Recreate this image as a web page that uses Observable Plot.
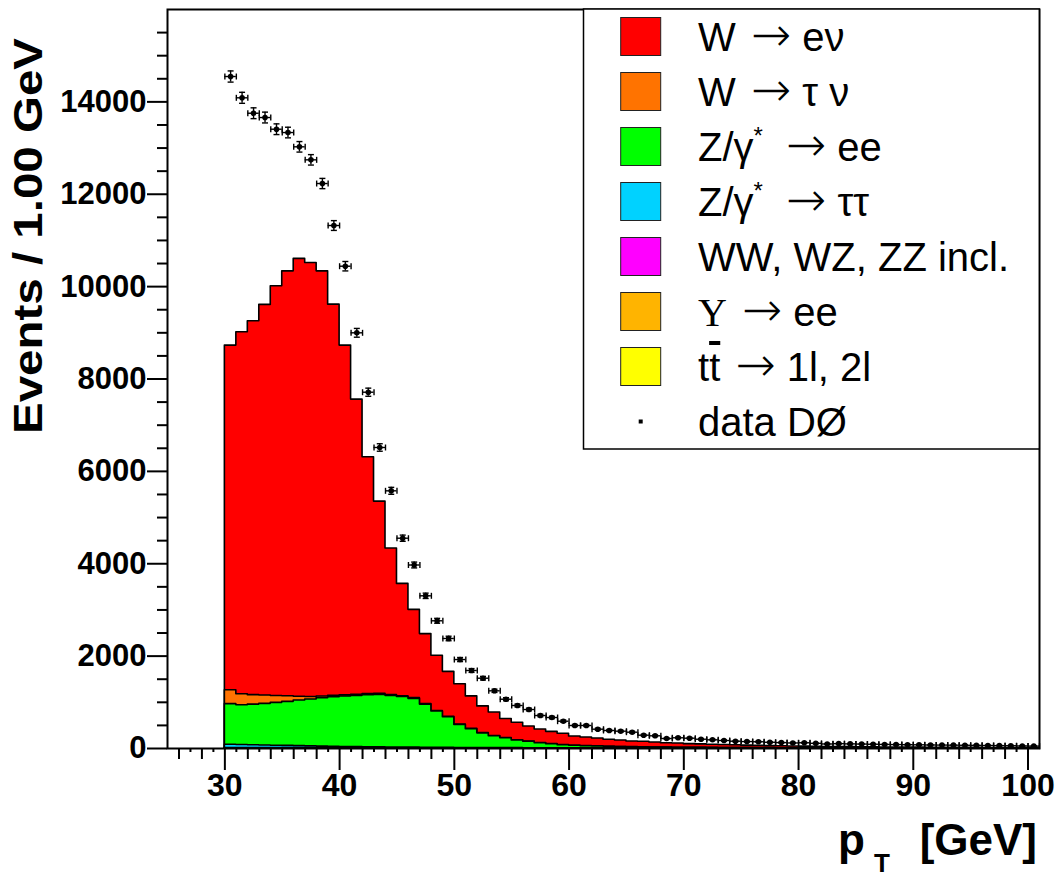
<!DOCTYPE html>
<html>
<head>
<meta charset="utf-8">
<script src="https://cdn.jsdelivr.net/npm/d3@7"></script>
<script src="https://cdn.jsdelivr.net/npm/@observablehq/plot@0.6"></script>
<style>
  body { margin: 0; background: #fff; }
  #chart { width: 1058px; height: 876px; }
</style>
</head>
<body>
<div id="chart"></div>
<script>
// ---- categories: lower edges of the 1 GeV bins ----
const binLow = [30,31,32,33,34,35,36,37,38,39,40,41,42,43,44,45,46,47,48,49,50,51,52,53,54,55,56,57,58,59,60,61,62,63,64,65,66,67,68,69,70,71,72,73,74,75,76,77,78,79,80,81,82,83,84,85,86,87,88,89,90,91,92,93,94,95,96,97,98,99,100];
const binWidth = 1;

// ---- MC processes (events per bin) ----
const wenu = [7463,7836,8094,8457,8869,9201,9480,9398,9206,8470,
  7572,6389,5128,4164,3171,2433,1912,1513,1197,972,
  873,702,576,506,412,378,326,292,264,244,
  199,185,170,149,139,122,119,107,95,91,
  78,75,68,63,58,53,49,44,42,38,
  35,32,29,27,25,23,22,20,18,17,
  15,15,14,13,12,11,10,9,9,8,
  8];
const wtaunu = [300,240,205,180,150,120,80,55,35,30,
  25,25,22,20,18,16,15,14,12,10,
  9,8,7,6,6,5,5,4,4,3,
  3,3,3,2,2,2,2,2,2,1,
  1,1,1,1,1,1,1,1,0,0,
  0,0,0,0,0,0,0,0,0,0,
  0,0,0,0,0,0,0,0,0,0,
  0];
const zee = [878,858,878,901,927,954,989,1015,1049,1073,
  1092,1110,1127,1136,1117,1094,1057,934,785,664,
  496,407,318,256,213,165,138,109,87,66,
  53,45,38,33,28,24,21,18,16,14,
  13,11,10,9,8,8,7,7,6,6,
  5,5,5,4,4,4,3,3,3,3,
  3,2,2,2,2,2,2,2,2,2,
  2];
const ztautau = [70,65,60,55,50,45,40,36,32,28,
  25,22,20,18,16,14,12,11,10,9,
  8,7,6,6,5,5,4,4,4,3,
  3,3,3,2,2,2,2,2,1,1,
  1,1,1,1,1,0,0,0,0,0,
  0,0,0,0,0,0,0,0,0,0,
  0,0,0,0,0,0,0,0,0,0,
  0];
const diboson = [6,6,6,6,6,6,6,5,5,5,
  5,4,4,4,4,4,3,3,3,3,
  2,2,2,2,2,2,2,1,1,1,
  1,1,1,1,1,1,1,1,1,1,
  1,1,1,1,1,0,0,0,0,0,
  0,0,0,0,0,0,0,0,0,0,
  0,0,0,0,0,0,0,0,0,0,
  0];
const upsilon = [3,3,3,2,2,2,2,1,1,1,
  1,1,1,1,1,1,1,0,0,0,
  0,0,0,0,0,0,0,0,0,0,
  0,0,0,0,0,0,0,0,0,0,
  0,0,0,0,0,0,0,0,0,0,
  0,0,0,0,0,0,0,0,0,0,
  0,0,0,0,0,0,0,0,0,0,
  0];
const ttbar = [3,3,3,3,3,3,3,3,3,3,
  3,3,3,3,2,2,2,2,2,2,
  2,2,2,2,2,1,1,1,1,1,
  1,1,1,1,1,1,0,0,0,0,
  0,0,0,0,0,0,0,0,0,0,
  0,0,0,0,0,0,0,0,0,0,
  0,0,0,0,0,0,0,0,0,0,
  0];

// ---- data (DØ) ----
const dataCounts = [14549,14088,13754,13661,13408,13336,13027,12745,12232,11323,
  10442,9000,7714,6517,5579,4553,3973,3306,2765,2382,
  1926,1689,1522,1249,1067,931,844,714,671,591,
  498,498,418,390,375,353,288,275,216,232,
  223,201,188,173,158,150,146,135,128,120,
  124,112,98,105,100,96,92,88,85,82,
  80,76,74,72,70,68,65,62,60,55,
  52];
const dataErrors = [121,119,117,117,116,115,114,113,111,106,
  102,95,88,81,75,67,63,58,53,49,
  44,41,39,35,33,31,29,27,26,24,
  22,22,20,20,19,19,17,17,15,15,
  15,14,14,13,13,12,12,12,11,11,
  11,11,10,10,10,10,10,9,9,9,
  9,9,9,8,8,8,8,8,8,7,
  7];

// ---- legend (top of stack first) ----
const processNames = ["W → eν", "W → τ ν", "Z/γ* → ee", "Z/γ* → ττ", "WW, WZ, ZZ incl.", "Υ → ee", "tt̄ → 1l, 2l"];
const processColors = ["#ff0000", "#ff7300", "#00ff00", "#00d2ff", "#ff00ff", "#ffb400", "#ffff00"];
const processSeries = [wenu, wtaunu, zee, ztautau, diboson, upsilon, ttbar];
const dataLabel = "data DØ";

// ---- axis ticks ----
const yMajorTicks = [0,2000,4000,6000,8000,10000,12000,14000];
const xMajorTicks = [30,40,50,60,70,80,90,100];
const yMinorTicks = d3.range(500, 16000, 500).filter(v => v % 2000 !== 0);
const xMinorTicks = d3.range(26, 101, 2).filter(v => v % 10 !== 0);
const xTinyTicks = d3.range(27, 101, 2);

// ---- build cumulative stack (bottom-up), draw top-first like ROOT THStack ----
const bottomUp = processSeries.map((s, i) => ({s, color: processColors[i]})).reverse();
let cum = binLow.map(() => 0);
const stacked = bottomUp.map(({s, color}) => {
  cum = cum.map((c, i) => c + s[i]);
  const rows = binLow.map((x, i) => ({x, y: cum[i]}));
  rows.push({x: binLow[binLow.length - 1] + binWidth, y: cum[cum.length - 1]});
  return {rows, color};
}).reverse();

const areaMarks = stacked.map(({rows, color}) =>
  Plot.areaY(rows, {x: "x", y: "y", curve: "step-after", fill: color, stroke: "black", strokeWidth: 1.6})
);

const pts = binLow.map((b, i) => ({c: b + binWidth / 2, lo: b, hi: b + binWidth, v: dataCounts[i], e: dataErrors[i]}));
const vbar = {draw(ctx, size) { const r = Math.sqrt(size / Math.PI); ctx.moveTo(0, -r); ctx.lineTo(0, r); }};
const hbar = {draw(ctx, size) { const r = Math.sqrt(size / Math.PI); ctx.moveTo(-r, 0); ctx.lineTo(r, 0); }};

const dataMarks = [
  Plot.ruleY(pts, {y: "v", x1: "lo", x2: "hi", stroke: "black", strokeWidth: 1.4}),
  Plot.ruleX(pts, {x: "c", y1: d => d.v - d.e, y2: d => d.v + d.e, stroke: "black", strokeWidth: 1.4}),
  Plot.dot(pts, {x: "lo", y: "v", symbol: vbar, r: 3, stroke: "black", fill: "none", strokeWidth: 1.4}),
  Plot.dot(pts, {x: "hi", y: "v", symbol: vbar, r: 3, stroke: "black", fill: "none", strokeWidth: 1.4}),
  Plot.dot(pts, {x: "c", y: d => d.v + d.e, symbol: hbar, r: 3, stroke: "black", fill: "none", strokeWidth: 1.4}),
  Plot.dot(pts, {x: "c", y: d => d.v - d.e, symbol: hbar, r: 3, stroke: "black", fill: "none", strokeWidth: 1.4}),
  Plot.dot(pts, {x: "c", y: "v", r: 2.8, fill: "black", stroke: "none"})
];

const svgNode = Plot.plot({
  width: 1058,
  height: 876,
  marginLeft: 167,
  marginRight: 19,
  marginTop: 9,
  marginBottom: 128,
  style: {fontFamily: "'Liberation Sans', Arial, Helvetica, sans-serif", fontSize: "31px", fontWeight: "bold", background: "white", color: "black", overflow: "visible"},
  x: {domain: [25, 101]},
  y: {domain: [0, 16000]},
  marks: [
    ...areaMarks,
    ...dataMarks,
    Plot.axisY({ticks: yMinorTicks, tickSize: 10, tickFormat: () => "", strokeWidth: 2, label: null}),
    Plot.axisY({ticks: yMajorTicks, tickSize: 20, tickPadding: 1, tickFormat: d => String(d), strokeWidth: 2, label: null, fontSize: 31, fontWeight: "bold"}),
    Plot.axisX({ticks: xTinyTicks, tickSize: 4, tickFormat: () => "", strokeWidth: 2, label: null}),
    Plot.axisX({ticks: xMinorTicks, tickSize: 11, tickFormat: () => "", strokeWidth: 2, label: null}),
    Plot.axisX({ticks: xMajorTicks, tickSize: 22, tickPadding: 3, tickFormat: d => String(d), strokeWidth: 2, label: null, fontSize: 32, fontWeight: "bold"}),
    Plot.frame({stroke: "black", strokeWidth: 2})
  ]
});
document.getElementById("chart").appendChild(svgNode);

// ---- titles and legend (pixel layout) ----
const svg = d3.select(svgNode);
const sans = "'Liberation Sans', Arial, Helvetica, sans-serif";
const serif = "'Liberation Serif', 'Times New Roman', serif";
const arrowFont = "'DejaVu Sans', sans-serif";

svg.append("text")
  .attr("transform", "translate(42,38) rotate(-90)")
  .attr("text-anchor", "end")
  .attr("font-family", sans).attr("font-weight", "bold").attr("font-size", 41)
  .attr("textLength", 396).attr("lengthAdjust", "spacingAndGlyphs")
  .attr("fill", "black")
  .text("Events / 1.00 GeV");

const xt = svg.append("g").attr("font-family", sans).attr("font-weight", "bold").attr("fill", "black").attr("text-anchor", "start");
xt.append("text").attr("x", 838).attr("y", 855).attr("font-size", 44).text("p");
xt.append("text").attr("x", 874).attr("y", 872).attr("font-size", 26).text("T");
xt.append("text").attr("x", 1037).attr("y", 855).attr("text-anchor", "end").attr("font-size", 44).text("[GeV]");

const lg = svg.append("g").attr("font-family", sans).attr("font-weight", "normal").attr("font-size", 40)
  .attr("fill", "black").attr("text-anchor", "start");
lg.append("rect").attr("x", 583.5).attr("y", 9).attr("width", 455.8).attr("height", 440)
  .attr("fill", "white").attr("stroke", "black").attr("stroke-width", 1.5);
const rowH = 55, top0 = 9;
function addSegments(t, label) {
  const greek = /[ντγΥ]/;
  const parts = label.split(/(\*|[ντγΥ→]|t̄)/).filter(p => p !== "");
  for (const p of parts) {
    if (p === "*") {
      t.append("tspan").attr("dy", -17).attr("font-size", 24).text("*");
      t.append("tspan").attr("dy", 17).text("\u2009");
    } else if (p === "t̄") {
      t.append("tspan").attr("text-decoration", "overline").text("t");
    } else if (p === "→") {
      t.append("tspan").attr("font-family", arrowFont).attr("font-weight", 300).attr("font-size", 48)
        .attr("dx", 4).text(p);
      t.append("tspan").attr("dx", 3).text("");
    } else if (greek.test(p)) {
      t.append("tspan").attr("font-family", p === "Υ" ? serif : sans).text(p);
    } else {
      t.append("tspan").text(p);
    }
  }
}
processNames.forEach((name, i) => {
  const cy = top0 + rowH * (i + 0.5);
  lg.append("rect").attr("x", 620.7).attr("y", cy - 19).attr("width", 40).attr("height", 38)
    .attr("fill", processColors[i]).attr("stroke", "#222").attr("stroke-width", 1);
  const t = lg.append("text").attr("x", 698).attr("y", cy + 14.5);
  addSegments(t, name);
});
{
  const cy = top0 + rowH * 7.5;
  lg.append("rect").attr("x", 638.7).attr("y", cy - 2).attr("width", 4).attr("height", 4).attr("fill", "black");
  lg.append("text").attr("x", 698).attr("y", cy + 14.5).text(dataLabel);
}
</script>
</body>
</html>
